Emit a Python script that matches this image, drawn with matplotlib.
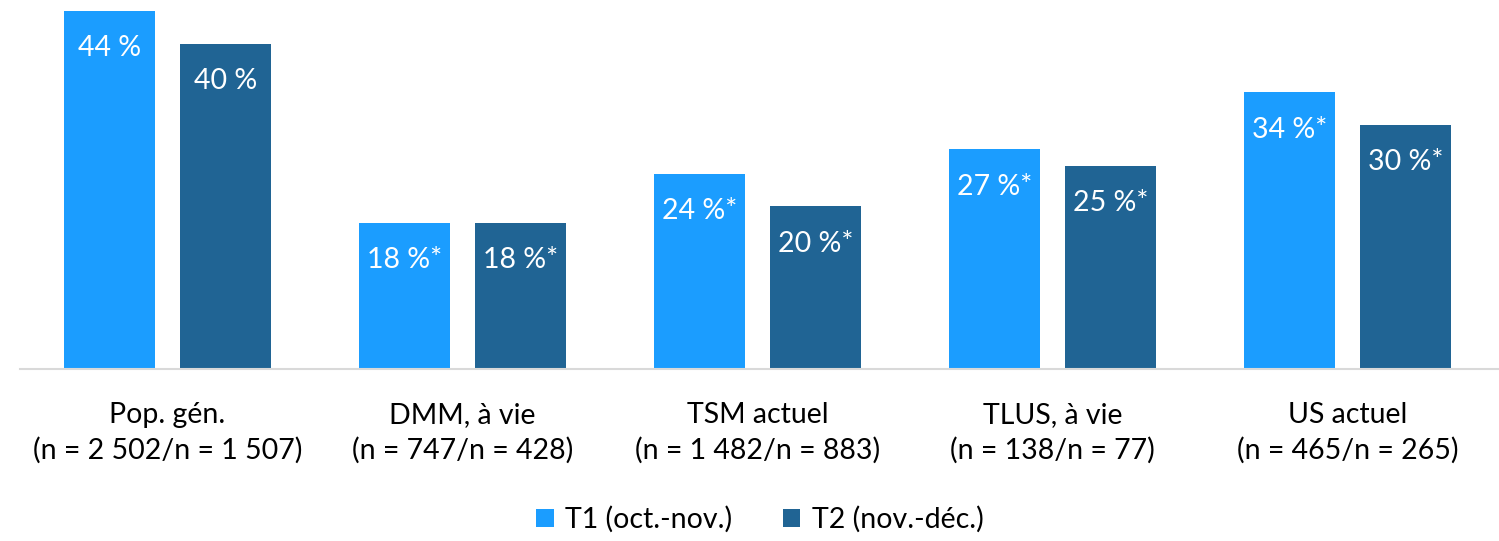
import numpy as np
import matplotlib
matplotlib.use('Agg')
from matplotlib import pyplot as plt

# data
categories = ['Pop. gén.\n(n = 2 502/n = 1 507)',
              'DMM, à vie\n(n = 747/n = 428)',
              'TSM actuel\n(n = 1 482/n = 883)',
              'TLUS, à vie\n(n = 138/n = 77)',
              'US actuel\n(n = 465/n = 265)']
t1 = [44, 18, 24, 27, 34]
t2 = [40, 18, 20, 25, 30]
t1_labels = ['44 %', '18 %*', '24 %*', '27 %*', '34 %*']
t2_labels = ['40 %', '18 %*', '20 %*', '25 %*', '30 %*']
series_names = ['T1 (oct.-nov.)', 'T2 (nov.-déc.)']

plt.rcParams['font.family'] = ['Lato', 'DejaVu Sans']

c1 = '#1B9DFF'
c2 = '#206494'

fig = plt.figure(figsize=(14.99, 5.41), dpi=100)
ax = fig.add_axes([0.0133, 0.318, 0.9867, 0.682])

x = np.arange(len(categories))
w = 0.31
off = 0.197
b1 = ax.bar(x - off, t1, w, color=c1)
b2 = ax.bar(x + off, t2, w, color=c2)

for bars, labs in ((b1, t1_labels), (b2, t2_labels)):
    for b, lab in zip(bars, labs):
        ax.text(b.get_x() + b.get_width() / 2, b.get_height() - 4.6, lab,
                ha='center', va='center', color='white', fontsize=20.5)

ax.set_xlim(-0.5, 4.514)
ax.set_ylim(0, 45.35)
ax.set_xticks(x)
ax.set_xticklabels(categories, fontsize=20.5, linespacing=1.4)
ax.tick_params(axis='x', length=0, pad=24)
ax.set_yticks([])
for s in ['top', 'right', 'left']:
    ax.spines[s].set_visible(False)
ax.spines['bottom'].set_color('#D9D9D9')
ax.spines['bottom'].set_linewidth(1.5)

fig.legend([b1, b2], series_names, loc='center', bbox_to_anchor=(0.507, 0.04),
           ncol=2, frameon=False, fontsize=20.5, handlelength=0.6, handleheight=0.6,
           columnspacing=1.8, handletextpad=0.4)

fig.savefig('out.png', dpi=100)
